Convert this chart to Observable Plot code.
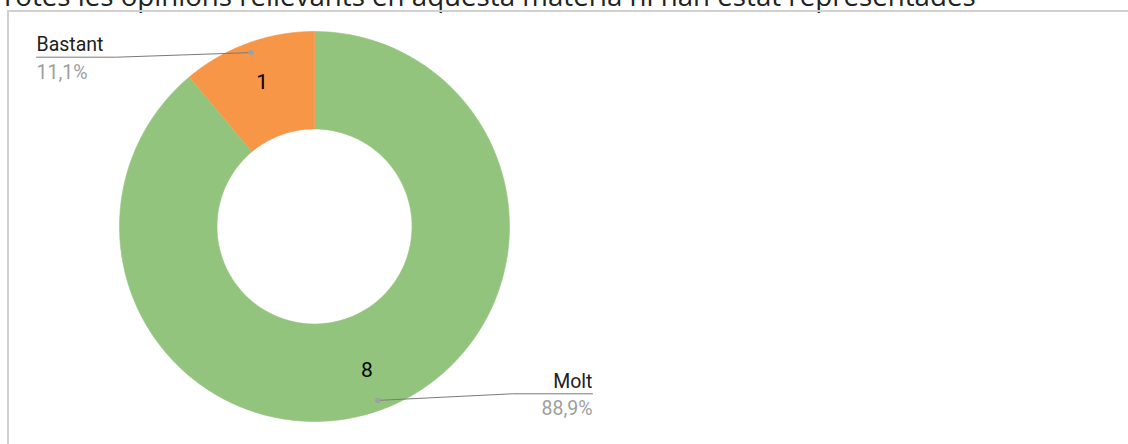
<!DOCTYPE html>
<html><head><meta charset="utf-8">
<script src="https://cdn.jsdelivr.net/npm/d3@7"></script>
<script src="https://cdn.jsdelivr.net/npm/@observablehq/plot@0.6"></script>
<style>
html,body{margin:0;padding:0;background:#fff;}
body{width:1128px;height:444px;overflow:hidden;position:relative;}
#title{position:absolute;left:0;top:-18px;font-family:"Open Sans",sans-serif;font-size:27.7px;line-height:27.7px;color:#222;white-space:nowrap;}
#frame{position:absolute;left:7px;top:9.5px;width:1200px;height:500px;border:2px solid #d0d0d0;}
#chart{position:absolute;left:0;top:0;}
</style></head><body>
<div id="title">Totes les opinions rellevants en aquesta matèria hi han estat representades</div>
<div id="frame"></div>
<div id="chart"></div>
<script>
// data
const categories = ["Molt", "Bastant"];
const counts = [8, 1];
const colors = ["#93c47d", "#f79646"];

// layout (pixels)
const W = 1128, H = 444, cx = 314, cy = 226, R = 195;
const innerRatio = 0.5, labelRatio = 0.785, dotRatio = 0.949;
const labelEnds = {Molt: {x: 592, y: 393.3, anchor: "end"}, Bastant: {x: 36, y: 56.7, anchor: "start"}};
const elbowLen = 80;

const ux = px => (px - cx) / R;
const uy = py => (cy - py) / R;

const rows = categories.map((c, i) => ({cat: c, count: counts[i]}));
const total = d3.sum(counts);
const arcs = d3.pie().sort(null).value(d => d.count)(rows);

const slicePts = [];
for (const a of arcs) {
  const N = 120;
  for (let i = 0; i <= N; i++) {
    const t = a.startAngle + (a.endAngle - a.startAngle) * i / N;
    slicePts.push({cat: a.data.cat, x: Math.sin(t), y: Math.cos(t)});
  }
  for (let i = N; i >= 0; i--) {
    const t = a.startAngle + (a.endAngle - a.startAngle) * i / N;
    slicePts.push({cat: a.data.cat, x: innerRatio * Math.sin(t), y: innerRatio * Math.cos(t)});
  }
}

const labels = arcs.map(a => {
  const m = (a.startAngle + a.endAngle) / 2;
  const e = labelEnds[a.data.cat];
  const pct = (a.data.count / total * 100).toFixed(1).replace(".", ",") + "%";
  return {
    cat: a.data.cat, count: a.data.count, pct,
    lx: labelRatio * Math.sin(m), ly: labelRatio * Math.cos(m),
    dx: dotRatio * Math.sin(m), dy: dotRatio * Math.cos(m),
    ex: ux(e.x), ey: uy(e.y), anchor: e.anchor,
    bx: ux(e.anchor === "end" ? e.x - elbowLen : e.x + elbowLen), by: uy(e.y)
  };
});

const leaders = labels.flatMap(l => [
  {cat: l.cat, x: l.dx, y: l.dy},
  {cat: l.cat, x: l.bx, y: l.by},
  {cat: l.cat, x: l.ex, y: l.ey}
]);

const nameOpts = anchor => ({x: "ex", y: "ey", text: "cat", dy: -6, textAnchor: anchor, lineAnchor: "bottom", fontSize: 19.5, fill: "#212121", fontFamily: "Roboto", filter: d => d.anchor === anchor});
const pctOpts = anchor => ({x: "ex", y: "ey", text: "pct", dy: 21.5, textAnchor: anchor, lineAnchor: "bottom", fontSize: 19.5, fill: "#9e9e9e", fontFamily: "Roboto", filter: d => d.anchor === anchor});

const chart = Plot.plot({
  width: W, height: H,
  margin: 0,
  style: {background: "transparent", overflow: "visible"},
  x: {domain: [ux(0), ux(W)], range: [0, W], axis: null},
  y: {domain: [uy(H), uy(0)], range: [H, 0], axis: null},
  color: {domain: categories, range: colors},
  marks: [
    Plot.line(slicePts, {x: "x", y: "y", z: "cat", fill: "cat", stroke: "cat", strokeWidth: 0.6}),
    Plot.text(labels, {x: "lx", y: "ly", text: d => String(d.count), fontSize: 21, fill: "#000", fontFamily: "Roboto", lineAnchor: "middle"}),
    Plot.line(leaders, {x: "x", y: "y", z: "cat", stroke: "#7a7a7a", strokeWidth: 1}),
    Plot.dot(labels, {x: "dx", y: "dy", r: 2.7, fill: "#a0a0a0", stroke: null}),
    Plot.text(labels, nameOpts("start")),
    Plot.text(labels, nameOpts("end")),
    Plot.text(labels, pctOpts("start")),
    Plot.text(labels, pctOpts("end"))
  ]
});
document.getElementById("chart").appendChild(chart);
</script>
</body></html>
